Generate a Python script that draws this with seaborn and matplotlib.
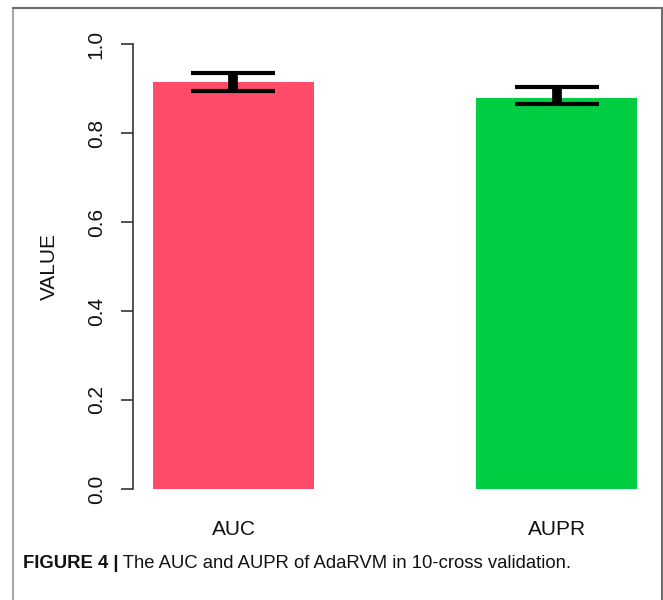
import matplotlib
matplotlib.use("Agg")
import matplotlib.pyplot as plt
import seaborn as sns
import pandas as pd
from matplotlib.lines import Line2D

categories = ["AUC", "AUPR"]
values = [0.915, 0.879]
err_lower = [0.021, 0.013]
err_upper = [0.020, 0.024]
bar_colors = ["#FF4B6A", "#00CE42"]
yticks = [0.0, 0.2, 0.4, 0.6, 0.8, 1.0]
ylabel = "VALUE"
caption_bold = "FIGURE 4 |"
caption_text = " The AUC and AUPR of AdaRVM in 10-cross validation."

sns.set_theme(style="white")
plt.rcParams['font.family'] = ['Liberation Sans', 'DejaVu Sans']

df = pd.DataFrame({"metric": categories, "value": values})

W, H = 663, 600
fig = plt.figure(figsize=(W / 100, H / 100), dpi=100)
ax = fig.add_axes([133 / W, (H - 489) / H, (657 - 133) / W, (489 - 44) / H])

sns.barplot(data=df, x="metric", y="value", hue="metric", palette=bar_colors,
            width=0.5, legend=False, ax=ax, saturation=1, edgecolor="none")
ax.errorbar(range(len(categories)), values, yerr=[err_lower, err_upper], fmt="none",
            ecolor="black", elinewidth=7, capsize=30, capthick=3)

ax.set_ylim(0, 1)
ax.set_xlim(-0.311, 1.311)
ax.set_yticks(yticks)
ax.set_yticklabels([f"{t:.1f}" for t in yticks], rotation=90, va="center",
                   fontsize=15, color="#111111")
ax.tick_params(axis="y", length=8.6, width=1.2, color="#333333", pad=11, left=True)
ax.tick_params(axis="x", length=0, pad=22, labelsize=15, labelcolor="#111111")
ax.set_xlabel("")
ax.set_ylabel(ylabel, fontsize=15, labelpad=20, color="#111111")
for s in ["top", "right", "bottom"]:
    ax.spines[s].set_visible(False)
ax.spines["left"].set_color("#333333")
ax.spines["left"].set_linewidth(1.2)
ax.patch.set_alpha(0)

# frame around figure
fig.add_artist(Line2D([13 / W, 13 / W], [0, 1 - 8 / H], color="#A8A8A8", lw=1.5))
fig.add_artist(Line2D([13 / W, 662 / W], [1 - 8 / H, 1 - 8 / H], color="#6E6E6E", lw=1.5))
fig.add_artist(Line2D([662 / W, 662 / W], [1 - 8 / H, 0], color="#6E6E6E", lw=1.5))

# caption
t1 = fig.text(23 / W, 1 - 563 / H, caption_bold, fontsize=13.3, fontweight="bold",
              va="center", ha="left", color="#111111")
fig.canvas.draw()
bb = t1.get_window_extent()
fig.text(bb.x1 / W, 1 - 563 / H, caption_text, fontsize=13.3, va="center",
         ha="left", color="#111111")

fig.savefig("out.png", dpi=100)
